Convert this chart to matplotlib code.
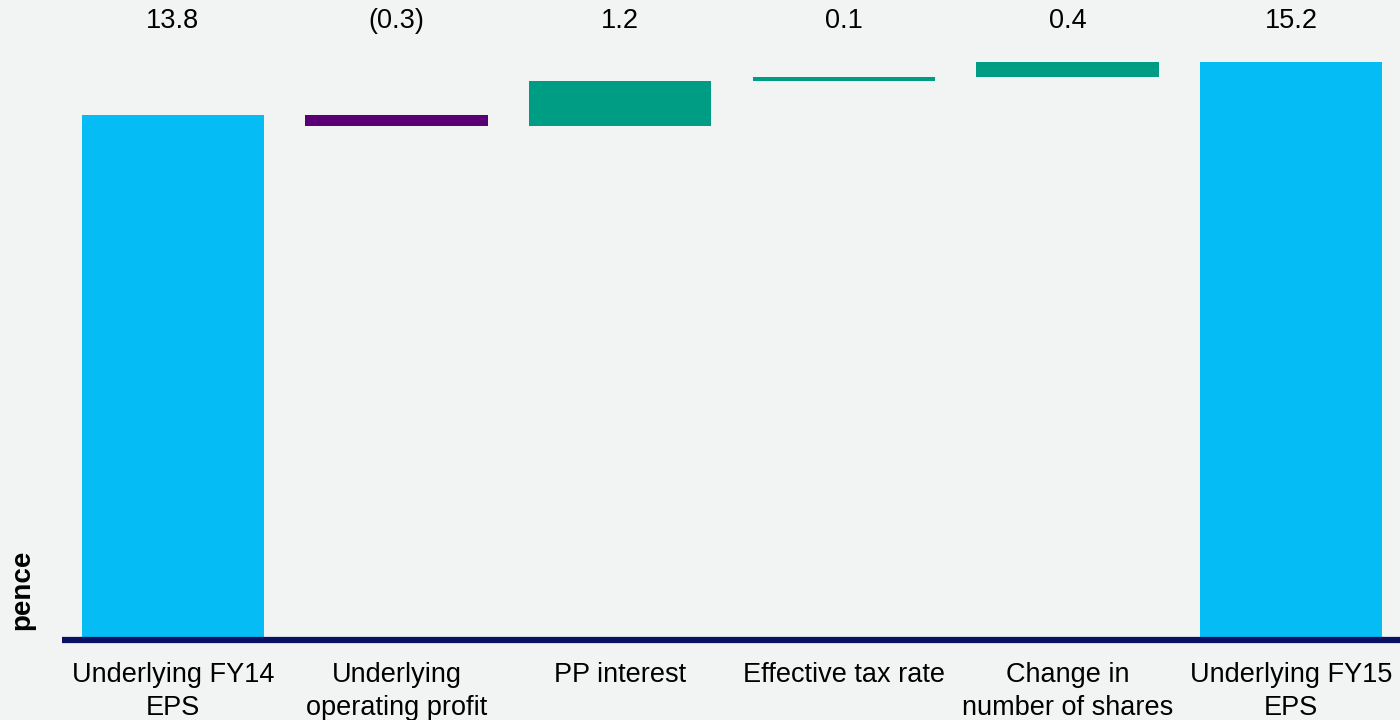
import matplotlib

matplotlib.use("Agg")
import matplotlib.pyplot as plt
import matplotlib.transforms as mtransforms

categories = ["Underlying FY14\nEPS", "Underlying\noperating profit", "PP interest",
              "Effective tax rate", "Change in\nnumber of shares", "Underlying FY15\nEPS"]
# step values in pence; first and last are totals
values = [13.8, -0.3, 1.2, 0.1, 0.4, 15.2]
labels = ["13.8", "(0.3)", "1.2", "0.1", "0.4", "15.2"]
is_total = [True, False, False, False, False, True]

CYAN = "#05BCF5"
PURPLE = "#5A0074"
TEAL = "#009D85"
BG = "#F2F3F3"
NAVY = "#0A1160"

plt.rcParams["font.family"] = ["Liberation Sans", "DejaVu Sans"]

fig = plt.figure(figsize=(14, 7.2), dpi=100, facecolor=BG)
ax = fig.add_axes([62 / 1400, 80 / 720, 1 - 62 / 1400, 640 / 720])
ax.set_facecolor(BG)

running = 0.0
bottoms, heights, colors = [], [], []
for v, tot in zip(values, is_total):
    if tot:
        bottoms.append(0)
        heights.append(v)
        colors.append(CYAN)
        running = v
    else:
        bottoms.append(running if v >= 0 else running + v)
        heights.append(abs(v))
        colors.append(TEAL if v >= 0 else PURPLE)
        running += v

x = list(range(len(categories)))
ax.bar(x, heights, bottom=bottoms, width=0.815, color=colors)

ax.set_xlim(-0.496, 5.487)
ax.set_ylim(0, 16.82)

trans = mtransforms.blended_transform_factory(ax.transData, ax.transAxes)
for xi, lab in zip(x, labels):
    ax.text(xi, 1 - 21 / 640, lab, transform=trans, ha="center", va="center", fontsize=19.5)

ax.set_xticks(x)
ax.set_xticklabels(categories, fontsize=19.5, linespacing=1.32)
ax.tick_params(axis="x", length=0, pad=16)
ax.set_yticks([])
for s in ["top", "right", "left"]:
    ax.spines[s].set_visible(False)
ax.spines["bottom"].set_color(NAVY)
ax.spines["bottom"].set_linewidth(4.5)
ax.spines["bottom"].set_capstyle("butt")

fig.text(22 / 1400, 1 - 590 / 720, "pence", rotation=90, ha="center", va="center",
         fontsize=20, fontweight="bold")

fig.savefig("out.png", dpi=100, facecolor=BG)
